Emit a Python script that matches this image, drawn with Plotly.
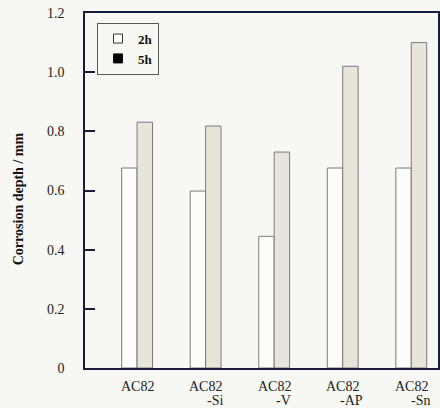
import plotly.graph_objects as go

categories = ["AC82", "AC82-Si", "AC82-V", "AC82-AP", "AC82-Sn"]
line1 = ["AC82", "AC82", "AC82", "AC82", "AC82"]
line2 = ["", "-Si", "-V", "-AP", "-Sn"]
vals_2h = [0.676, 0.598, 0.445, 0.676, 0.676]
vals_5h = [0.831, 0.818, 0.730, 1.020, 1.100]
yticks = [0, 0.2, 0.4, 0.6, 0.8, 1.0, 1.2]
yticktext = ["0", "0.2", "0.4", "0.6", "0.8", "1.0", "1.2"]

x = list(range(len(categories)))
serif = "Liberation Serif, Times New Roman, serif"

fig = go.Figure()
fig.add_trace(go.Bar(x=x, y=vals_2h, name="2h", showlegend=False,
                     marker=dict(color="#fcfcfa", line=dict(color="#7a7a7a", width=1))))
fig.add_trace(go.Bar(x=x, y=vals_5h, name="5h", showlegend=False,
                     marker=dict(color="#e8e4da", line=dict(color="#7a7a7a", width=1))))
# legend entries
fig.add_trace(go.Scatter(x=[None], y=[None], mode="markers", name="2h",
                         marker=dict(symbol="square", size=9, color="white",
                                     line=dict(color="#333", width=1))))
fig.add_trace(go.Scatter(x=[None], y=[None], mode="markers", name="5h",
                         marker=dict(symbol="square", size=9, color="black",
                                     line=dict(color="black", width=1))))

for i in x:
    fig.add_annotation(x=i, y=0, xref="x", yref="paper", yanchor="top", yshift=-9,
                       text=line1[i], showarrow=False, font=dict(family=serif, size=14, color="#222"))
    if line2[i]:
        fig.add_annotation(x=i, y=0, xref="x", yref="paper", yanchor="top", yshift=-23, xshift=9,
                           text=line2[i], showarrow=False, font=dict(family=serif, size=14, color="#222"))

fig.add_annotation(x=-0.19, y=0.478, xref="paper", yref="paper", xanchor="center", yanchor="middle",
                   text="<b>Corrosion depth / mm</b>", textangle=-90, showarrow=False,
                   font=dict(family=serif, size=14, color="#111"))

fig.update_layout(
    width=440, height=408,
    margin=dict(l=85, r=2, t=13, b=40),
    paper_bgcolor="#f7f7f4", plot_bgcolor="#f7f7f4",
    barmode="group", bargap=0.55, bargroupgap=0,
    font=dict(family=serif, size=14, color="#222"),
    legend=dict(x=0.034, y=0.973, xanchor="left", yanchor="top",
                bordercolor="#555", borderwidth=1, bgcolor="#f7f7f4",
                font=dict(family=serif, size=13, color="#111", weight="bold"),
                itemwidth=30, tracegroupgap=0),
    xaxis=dict(range=[-0.76, 4.39], showticklabels=False, ticks="", showgrid=False,
               zeroline=False, showline=True, linecolor="#1a1a3a", linewidth=1.5, mirror=True),
    yaxis=dict(range=[0, 1.2], tickvals=yticks, ticktext=yticktext, ticks="inside",
               ticklen=10, tickcolor="#1a1a3a", tickwidth=1.5, showgrid=False, zeroline=False,
               showline=True, linecolor="#1a1a3a", linewidth=1.5, mirror=True,
               ticklabelstandoff=16, automargin=False),
)

fig.write_html("out.html", config={"displayModeBar": False},
               post_script="document.body.style.margin='0';")
